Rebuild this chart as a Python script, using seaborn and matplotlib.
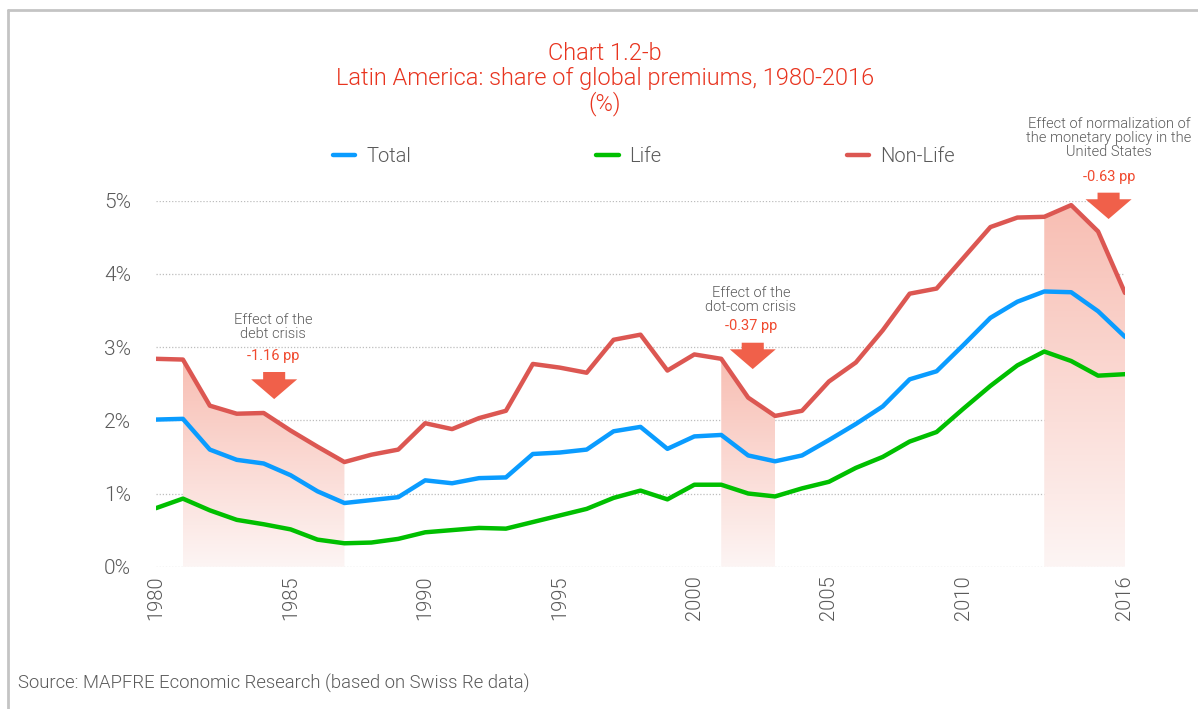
import numpy as np
import pandas as pd
import matplotlib
matplotlib.use("Agg")
import matplotlib.pyplot as plt
import seaborn as sns
from matplotlib.colors import LinearSegmentedColormap
from matplotlib.patches import FancyArrow, PathPatch
from matplotlib.lines import Line2D

# ---------------- data ----------------
years = list(range(1980, 2017))
total = [2.01, 2.02, 1.60, 1.46, 1.41, 1.25, 1.03, 0.87, 0.91, 0.95,
         1.18, 1.14, 1.21, 1.22, 1.54, 1.56, 1.60, 1.85, 1.91, 1.61,
         1.78, 1.80, 1.52, 1.44, 1.52, 1.73, 1.95, 2.19, 2.56, 2.67,
         3.03, 3.40, 3.62, 3.76, 3.75, 3.49, 3.14]
life = [0.80, 0.93, 0.77, 0.64, 0.58, 0.51, 0.37, 0.32, 0.33, 0.38,
        0.47, 0.50, 0.53, 0.52, 0.61, 0.70, 0.79, 0.94, 1.04, 0.92,
        1.12, 1.12, 1.00, 0.96, 1.07, 1.16, 1.35, 1.50, 1.71, 1.84,
        2.16, 2.47, 2.75, 2.94, 2.81, 2.61, 2.63]
nonlife = [2.84, 2.83, 2.20, 2.09, 2.10, 1.86, 1.64, 1.43, 1.53, 1.60,
           1.96, 1.88, 2.03, 2.13, 2.77, 2.72, 2.65, 3.10, 3.17, 2.68,
           2.90, 2.84, 2.31, 2.06, 2.13, 2.53, 2.79, 3.23, 3.73, 3.80,
           4.22, 4.64, 4.77, 4.78, 4.94, 4.58, 3.74]
series_names = ["Total", "Life", "Non-Life"]
colors = ["#0a9cff", "#00bf00", "#dc5752"]
crisis_spans = [(1981, 1987), (2001, 2003), (2013, 2016)]
crisis_labels = ["Effect of the\ndebt crisis",
                 "Effect of the\ndot-com crisis",
                 "Effect of normalization of\nthe monetary policy in the\nUnited States"]
crisis_effects = ["-1.16 pp", "-0.37 pp", "-0.63 pp"]
xtick_years = [1980, 1985, 1990, 1995, 2000, 2005, 2010, 2016]
ytick_vals = [0, 1, 2, 3, 4, 5]
title_lines = ["Chart 1.2-b", "Latin America: share of global premiums, 1980-2016", "(%)"]
source_text = "Source: MAPFRE Economic Research (based on Swiss Re data)"

df = pd.DataFrame({"year": years * 3,
                   "value": total + life + nonlife,
                   "series": sum([[n] * len(years) for n in series_names], [])})

# ---------------- style ----------------
sns.set_theme(style="white")
plt.rcParams["font.family"] = ["Roboto", "DejaVu Sans"]
GRAY = "#5a5a5a"
TITLE_RED = "#e8341f"
ANN_RED = "#f04a2f"
ARROW_RED = "#f0604a"
LIGHT = 300

fig = plt.figure(figsize=(11.98, 7.09), dpi=100)
ax = fig.add_axes([156 / 1198, 0.2007, 969 / 1198, 0.5162])

# gradient shaded crisis areas under Non-Life
yr = np.array(years)
nl = np.array(nonlife)
cmap = LinearSegmentedColormap.from_list("grad", ["#fdf5f4", "#f8beb3"])
grad = np.linspace(1, 0, 256).reshape(-1, 1)
for a, b in crisis_spans:
    m = (yr >= a) & (yr <= b)
    poly = ax.fill_between(yr[m], nl[m], 0, color="none", lw=0)
    path = poly.get_paths()[0]
    patch = PathPatch(path, transform=ax.transData, facecolor="none", edgecolor="none")
    ax.add_patch(patch)
    im = ax.imshow(grad, extent=[a, b, 0, nl[m].max()], aspect="auto", cmap=cmap,
                   origin="upper", zorder=1, interpolation="bilinear")
    im.set_clip_path(patch)

sns.lineplot(data=df, x="year", y="value", hue="series", palette=colors,
             hue_order=series_names, linewidth=3.2, ax=ax, legend=False, zorder=3)

ax.set_xlim(1980, 2016)
ax.set_ylim(0, 5)
ax.set_xticks(xtick_years)
ax.set_xticklabels([str(y) for y in xtick_years], rotation=90, fontsize=14.5, color=GRAY,
                   fontweight=LIGHT)
ax.set_yticks(ytick_vals)
ax.set_yticklabels([f"{v}%" for v in ytick_vals], fontsize=15, color=GRAY, fontweight=LIGHT)
ax.tick_params(axis="both", length=0)
ax.tick_params(axis="x", pad=6)
ax.tick_params(axis="y", pad=18)
ax.set_xlabel("")
ax.set_ylabel("")
for s in ax.spines.values():
    s.set_visible(False)
ax.grid(axis="y", linestyle=(0, (1, 1.5)), color="#bdbdbd", linewidth=0.9, zorder=0)
ax.grid(axis="x", visible=False)
ax.set_axisbelow(True)

# annotations
arrow_x = [1984.39, 2002.17, 2015.39]
arrow_top = [2.66, 3.06, 5.11]
arrow_tip = [2.29, 2.70, 4.75]
label_pos = [(1984.35, 3.28), (2002.1, 3.64), (2015.40, 5.86)]
eff_pos = [(1984.35, 2.88), (2002.1, 3.29), (2015.40, 5.33)]
for i in range(3):
    ax.add_patch(FancyArrow(arrow_x[i], arrow_top[i], 0, -(arrow_top[i] - arrow_tip[i]),
                            width=0.82, head_width=1.71, head_length=0.27,
                            length_includes_head=True, color=ARROW_RED, lw=0,
                            clip_on=False, zorder=4))
    ax.text(*label_pos[i], crisis_labels[i], ha="center", va="center", fontsize=10.5,
            color=GRAY, linespacing=0.98, clip_on=False, fontweight=LIGHT)
    ax.text(*eff_pos[i], crisis_effects[i], ha="center", va="center", fontsize=10.5,
            color=ANN_RED, clip_on=False)

# legend
handles = [Line2D([], [], color=c, lw=3.2) for c in colors]
leg = fig.legend(handles, series_names, loc="center left",
                 bbox_to_anchor=(333 / 1198, 1 - 157 / 709),
                 ncol=3, frameon=False, fontsize=14.5, handlelength=1.1, handletextpad=0.55,
                 columnspacing=9.2, borderpad=0, borderaxespad=0, labelcolor=GRAY)
for t in leg.get_texts():
    t.set_fontweight(LIGHT)

# titles
for txt, ypx in zip(title_lines, [53, 79, 104]):
    fig.text(605 / 1198, 1 - ypx / 709, txt, ha="center", va="center",
             fontsize=17, color=TITLE_RED, fontweight=LIGHT)

fig.text(18 / 1198, 1 - 683 / 709, source_text, ha="left", va="center",
         fontsize=13.3, color=GRAY, fontweight=LIGHT)

# frame lines
fig.add_artist(Line2D([8 / 1198, 1], [1 - 10 / 709, 1 - 10 / 709], color="#c4c4c4", lw=2,
                      transform=fig.transFigure))
fig.add_artist(Line2D([8 / 1198, 8 / 1198], [0, 1 - 10 / 709], color="#c4c4c4", lw=2,
                      transform=fig.transFigure))

fig.savefig("out.png", dpi=100)
